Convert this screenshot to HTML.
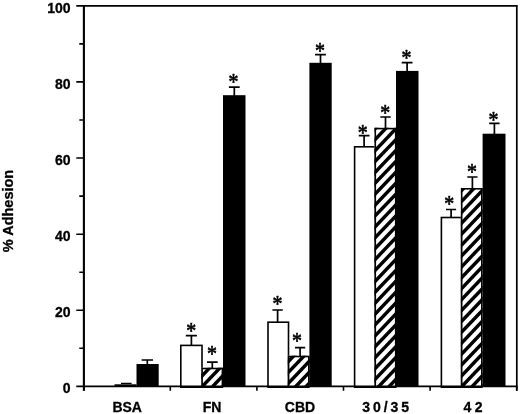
<!DOCTYPE html>
<html><head><meta charset="utf-8"><title>% Adhesion</title>
<style>html,body{margin:0;padding:0;background:#fff;overflow:hidden}svg{display:block}text{font-family:"Liberation Sans",sans-serif;font-weight:bold;fill:#000;stroke:#000;stroke-width:0.3px}.ast{font-family:"Liberation Serif",serif;font-weight:normal;font-size:24px;text-anchor:middle;stroke:#000;stroke-width:0.7px;stroke-linejoin:round}</style></head><body>
<svg width="520" height="414" viewBox="0 0 520 414">
<rect width="520" height="414" fill="#fff"/>
<defs>
<clipPath id="c3"><rect x="201.3" y="367.7" width="21.9" height="18.7"/></clipPath>
<clipPath id="c6"><rect x="287.8" y="355.7" width="21.8" height="30.7"/></clipPath>
<clipPath id="c9"><rect x="374.5" y="127.8" width="22.0" height="258.6"/></clipPath>
<clipPath id="c12"><rect x="460.9" y="188" width="21.7" height="198.4"/></clipPath>
</defs>
<rect x="114.5" y="384.3" width="22.0" height="2.1" fill="#000"/><path d="M121 383.4H131.6" stroke="#000" stroke-width="1.3"/>
<rect x="136.5" y="364" width="22.2" height="22.4" fill="#000"/>
<rect x="180.8" y="345.40000000000003" width="21.2" height="41.8" fill="#fff" stroke="#000" stroke-width="1.6"/>
<rect x="201.3" y="367.7" width="21.9" height="18.7" fill="#fff"/>
<g clip-path="url(#c3)" fill="#000"><polygon points="199.3,343.5 225.2,316.3 225.2,321.3 199.3,348.5"/><polygon points="199.3,354.4 225.2,327.2 225.2,332.2 199.3,359.4"/><polygon points="199.3,365.3 225.2,338.1 225.2,343.1 199.3,370.3"/><polygon points="199.3,376.2 225.2,349.0 225.2,354.0 199.3,381.2"/><polygon points="199.3,387.1 225.2,359.9 225.2,364.9 199.3,392.1"/><polygon points="199.3,398.0 225.2,370.8 225.2,375.8 199.3,403.0"/><polygon points="199.3,408.9 225.2,381.7 225.2,386.7 199.3,413.9"/><polygon points="199.3,419.8 225.2,392.6 225.2,397.6 199.3,424.8"/><polygon points="199.3,430.7 225.2,403.5 225.2,408.5 199.3,435.7"/></g>
<rect x="202.10000000000002" y="368.5" width="20.3" height="18.7" fill="none" stroke="#000" stroke-width="1.6"/>
<rect x="223" y="95.2" width="22.5" height="291.2" fill="#000"/>
<rect x="268.0" y="322.2" width="20.5" height="65.0" fill="#fff" stroke="#000" stroke-width="1.6"/>
<rect x="287.8" y="355.7" width="21.8" height="30.7" fill="#fff"/>
<g clip-path="url(#c6)" fill="#000"><polygon points="285.8,339.9 311.6,312.8 311.6,317.8 285.8,344.9"/><polygon points="285.8,350.8 311.6,323.7 311.6,328.7 285.8,355.8"/><polygon points="285.8,361.7 311.6,334.6 311.6,339.6 285.8,366.7"/><polygon points="285.8,372.6 311.6,345.5 311.6,350.5 285.8,377.6"/><polygon points="285.8,383.5 311.6,356.4 311.6,361.4 285.8,388.5"/><polygon points="285.8,394.4 311.6,367.3 311.6,372.3 285.8,399.4"/><polygon points="285.8,405.3 311.6,378.2 311.6,383.2 285.8,410.3"/><polygon points="285.8,416.2 311.6,389.1 311.6,394.1 285.8,421.2"/><polygon points="285.8,427.1 311.6,400.0 311.6,405.0 285.8,432.1"/></g>
<rect x="288.6" y="356.5" width="20.2" height="30.7" fill="none" stroke="#000" stroke-width="1.6"/>
<rect x="309.4" y="62.8" width="22.3" height="323.6" fill="#000"/>
<rect x="354.6" y="146.8" width="20.6" height="240.4" fill="#fff" stroke="#000" stroke-width="1.6"/>
<rect x="374.5" y="127.8" width="22.0" height="258.6" fill="#fff"/>
<g clip-path="url(#c9)" fill="#000"><polygon points="372.5,107.1 398.5,79.8 398.5,84.8 372.5,112.1"/><polygon points="372.5,118.0 398.5,90.7 398.5,95.7 372.5,123.0"/><polygon points="372.5,128.9 398.5,101.6 398.5,106.6 372.5,133.9"/><polygon points="372.5,139.8 398.5,112.5 398.5,117.5 372.5,144.8"/><polygon points="372.5,150.7 398.5,123.4 398.5,128.4 372.5,155.7"/><polygon points="372.5,161.6 398.5,134.3 398.5,139.3 372.5,166.6"/><polygon points="372.5,172.5 398.5,145.2 398.5,150.2 372.5,177.5"/><polygon points="372.5,183.4 398.5,156.1 398.5,161.1 372.5,188.4"/><polygon points="372.5,194.3 398.5,167.0 398.5,172.0 372.5,199.3"/><polygon points="372.5,205.2 398.5,177.9 398.5,182.9 372.5,210.2"/><polygon points="372.5,216.1 398.5,188.8 398.5,193.8 372.5,221.1"/><polygon points="372.5,227.0 398.5,199.7 398.5,204.7 372.5,232.0"/><polygon points="372.5,237.9 398.5,210.6 398.5,215.6 372.5,242.9"/><polygon points="372.5,248.8 398.5,221.5 398.5,226.5 372.5,253.8"/><polygon points="372.5,259.7 398.5,232.4 398.5,237.4 372.5,264.7"/><polygon points="372.5,270.6 398.5,243.3 398.5,248.3 372.5,275.6"/><polygon points="372.5,281.5 398.5,254.2 398.5,259.2 372.5,286.5"/><polygon points="372.5,292.4 398.5,265.1 398.5,270.1 372.5,297.4"/><polygon points="372.5,303.3 398.5,276.0 398.5,281.0 372.5,308.3"/><polygon points="372.5,314.2 398.5,286.9 398.5,291.9 372.5,319.2"/><polygon points="372.5,325.1 398.5,297.8 398.5,302.8 372.5,330.1"/><polygon points="372.5,336.0 398.5,308.7 398.5,313.7 372.5,341.0"/><polygon points="372.5,346.9 398.5,319.6 398.5,324.6 372.5,351.9"/><polygon points="372.5,357.8 398.5,330.5 398.5,335.5 372.5,362.8"/><polygon points="372.5,368.7 398.5,341.4 398.5,346.4 372.5,373.7"/><polygon points="372.5,379.6 398.5,352.3 398.5,357.3 372.5,384.6"/><polygon points="372.5,390.5 398.5,363.2 398.5,368.2 372.5,395.5"/><polygon points="372.5,401.4 398.5,374.1 398.5,379.1 372.5,406.4"/><polygon points="372.5,412.3 398.5,385.0 398.5,390.0 372.5,417.3"/><polygon points="372.5,423.2 398.5,395.9 398.5,400.9 372.5,428.2"/></g>
<rect x="375.3" y="128.6" width="20.4" height="258.6" fill="none" stroke="#000" stroke-width="1.6"/>
<rect x="396" y="70.9" width="22.5" height="315.5" fill="#000"/>
<rect x="441.40000000000003" y="217.5" width="20.2" height="169.7" fill="#fff" stroke="#000" stroke-width="1.6"/>
<rect x="460.9" y="188" width="21.7" height="198.4" fill="#fff"/>
<g clip-path="url(#c12)" fill="#000"><polygon points="458.9,169.0 484.6,142.0 484.6,147.0 458.9,174.0"/><polygon points="458.9,179.9 484.6,152.9 484.6,157.9 458.9,184.9"/><polygon points="458.9,190.8 484.6,163.8 484.6,168.8 458.9,195.8"/><polygon points="458.9,201.7 484.6,174.7 484.6,179.7 458.9,206.7"/><polygon points="458.9,212.6 484.6,185.6 484.6,190.6 458.9,217.6"/><polygon points="458.9,223.5 484.6,196.5 484.6,201.5 458.9,228.5"/><polygon points="458.9,234.4 484.6,207.4 484.6,212.4 458.9,239.4"/><polygon points="458.9,245.3 484.6,218.3 484.6,223.3 458.9,250.3"/><polygon points="458.9,256.2 484.6,229.2 484.6,234.2 458.9,261.2"/><polygon points="458.9,267.1 484.6,240.1 484.6,245.1 458.9,272.1"/><polygon points="458.9,278.0 484.6,251.0 484.6,256.0 458.9,283.0"/><polygon points="458.9,288.9 484.6,261.9 484.6,266.9 458.9,293.9"/><polygon points="458.9,299.8 484.6,272.8 484.6,277.8 458.9,304.8"/><polygon points="458.9,310.7 484.6,283.7 484.6,288.7 458.9,315.7"/><polygon points="458.9,321.6 484.6,294.6 484.6,299.6 458.9,326.6"/><polygon points="458.9,332.5 484.6,305.5 484.6,310.5 458.9,337.5"/><polygon points="458.9,343.4 484.6,316.4 484.6,321.4 458.9,348.4"/><polygon points="458.9,354.3 484.6,327.3 484.6,332.3 458.9,359.3"/><polygon points="458.9,365.2 484.6,338.2 484.6,343.2 458.9,370.2"/><polygon points="458.9,376.1 484.6,349.1 484.6,354.1 458.9,381.1"/><polygon points="458.9,387.0 484.6,360.0 484.6,365.0 458.9,392.0"/><polygon points="458.9,397.9 484.6,370.9 484.6,375.9 458.9,402.9"/><polygon points="458.9,408.8 484.6,381.8 484.6,386.8 458.9,413.8"/><polygon points="458.9,419.7 484.6,392.7 484.6,397.7 458.9,424.7"/><polygon points="458.9,430.6 484.6,403.6 484.6,408.6 458.9,435.6"/></g>
<rect x="461.7" y="188.8" width="20.1" height="198.4" fill="none" stroke="#000" stroke-width="1.6"/>
<rect x="482.6" y="133.7" width="22.9" height="252.7" fill="#000"/>
<path d="M147.3 364.5V360M141.6 360H153" stroke="#000" stroke-width="1.7" fill="none"/>
<path d="M191.4 345.1V335.6M185.8 335.6H196.9" stroke="#000" stroke-width="1.7" fill="none"/>
<text class="ast" transform="translate(191.2 338.1) scale(0.83 1)">*</text>
<path d="M212.3 368.2V362.2M207 362.2H217.7" stroke="#000" stroke-width="1.7" fill="none"/>
<text class="ast" transform="translate(212.0 361.1) scale(0.83 1)">*</text>
<path d="M234.3 95.7V87.2M228.9 87.2H239.7" stroke="#000" stroke-width="1.7" fill="none"/>
<text class="ast" transform="translate(233.5 88.9) scale(0.83 1)">*</text>
<path d="M277.6 321.9V310M272.4 310H282.8" stroke="#000" stroke-width="1.7" fill="none"/>
<text class="ast" transform="translate(277.4 310.7) scale(0.83 1)">*</text>
<path d="M300.1 356.2V347.6M295 347.6H305.2" stroke="#000" stroke-width="1.7" fill="none"/>
<text class="ast" transform="translate(297.0 348.1) scale(0.83 1)">*</text>
<path d="M320.5 63.3V54.6M315.1 54.6H325.9" stroke="#000" stroke-width="1.7" fill="none"/>
<text class="ast" transform="translate(319.9 58.2) scale(0.83 1)">*</text>
<path d="M364.1 146.5V135.6M358.8 135.6H369.5" stroke="#000" stroke-width="1.7" fill="none"/>
<text class="ast" transform="translate(362.8 139.6) scale(0.83 1)">*</text>
<path d="M385.5 128.3V117M380.3 117H390.7" stroke="#000" stroke-width="1.7" fill="none"/>
<text class="ast" transform="translate(385.3 120.1) scale(0.83 1)">*</text>
<path d="M407.1 71.4V62.7M401.7 62.7H412.5" stroke="#000" stroke-width="1.7" fill="none"/>
<text class="ast" transform="translate(406.5 64.7) scale(0.83 1)">*</text>
<path d="M451.1 217.2V209.5M446 209.5H456.1" stroke="#000" stroke-width="1.7" fill="none"/>
<text class="ast" transform="translate(449.3 211.3) scale(0.83 1)">*</text>
<path d="M472.4 188.5V177M467.3 177H477.5" stroke="#000" stroke-width="1.7" fill="none"/>
<text class="ast" transform="translate(471.9 179.4) scale(0.83 1)">*</text>
<path d="M494.4 134.2V123.3M489.2 123.3H499.6" stroke="#000" stroke-width="1.7" fill="none"/>
<text class="ast" transform="translate(493.6 127.1) scale(0.83 1)">*</text>
<path d="M83.9 5.1V390.8" stroke="#000" stroke-width="2.1" fill="none"/>
<path d="M76.3 5.8H517.5" stroke="#000" stroke-width="1.7" fill="none"/>
<path d="M516.8 5.2V390.8" stroke="#000" stroke-width="1.7" fill="none"/>
<path d="M76.3 386.4H517.5" stroke="#000" stroke-width="1.7" fill="none"/>
<path d="M79.3 348.3H84M76.3 310.3H84M79.3 272.2H84M76.3 234.2H84M79.3 196.1H84M76.3 158.0H84M79.3 120.0H84M76.3 81.9H84M79.3 43.9H84" stroke="#000" stroke-width="1.6" fill="none"/>
<path d="M83.8 386.4V390.8M170.3 386.4V390.8M256.9 386.4V390.8M343.5 386.4V390.8M430.1 386.4V390.8M516.7 386.4V390.8" stroke="#000" stroke-width="1.6" fill="none"/>
<text x="70.5" y="393.3" font-size="14" text-anchor="end">0</text>
<text x="70.5" y="317.2" font-size="14" text-anchor="end">20</text>
<text x="70.5" y="241.1" font-size="14" text-anchor="end">40</text>
<text x="70.5" y="164.9" font-size="14" text-anchor="end">60</text>
<text x="70.5" y="88.8" font-size="14" text-anchor="end">80</text>
<text x="70.5" y="12.7" font-size="14" text-anchor="end">100</text>
<text x="127.2" y="411.9" font-size="14" text-anchor="middle">BSA</text>
<text x="212.1" y="411.9" font-size="14" text-anchor="middle">FN</text>
<text x="300" y="411.9" font-size="14" text-anchor="middle">CBD</text>
<text x="362.3" y="411.9" font-size="14" letter-spacing="2.9">30/35</text>
<text x="463.4" y="411.9" font-size="14" letter-spacing="3.6">42</text>
<text transform="translate(12.8 211) rotate(-90)" font-size="14.5" text-anchor="middle">% Adhesion</text>
</svg></body></html>
